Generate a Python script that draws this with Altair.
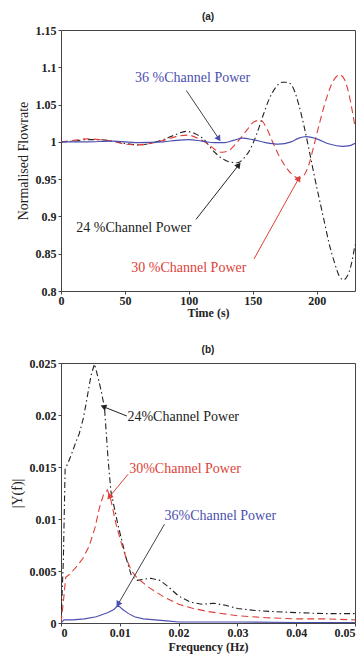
import math
import altair as alt
import pandas as pd

SERIF = "Liberation Serif"
SANS = "Liberation Sans"
BLACK = "#222222"
RED = "#dd3f3a"
BLUE = "#4b4fb0"
ARROW_GRAY = "#444444"

# ---------------- Panel (a): normalised flowrate vs time ----------------
a_t24 = [0, 10, 20, 30, 40, 50, 60, 70, 80, 90, 98, 105, 112, 118, 125, 132, 138, 143, 148, 153,
         158, 163, 168, 173, 177, 182, 186, 190, 194, 198, 202, 206, 210, 214, 218, 221, 224, 227, 230]
a_v24 = [1.0, 1.001, 1.003, 1.003, 1.001, 0.998, 0.996, 0.998, 1.003, 1.010, 1.014, 1.011, 1.003, 0.990,
         0.979, 0.973, 0.972, 0.978, 0.990, 1.010, 1.035, 1.058, 1.073, 1.080, 1.080, 1.071, 1.050, 1.022,
         0.990, 0.956, 0.924, 0.893, 0.862, 0.838, 0.819, 0.815, 0.820, 0.835, 0.862]

a_t30 = [0, 10, 20, 30, 40, 50, 60, 70, 80, 90, 99, 107, 115, 121, 126, 131, 136, 141, 146, 151,
         156, 161, 166, 171, 176, 181, 186, 190, 194, 198, 203, 208, 213, 218, 222, 226, 230]
a_v30 = [1.0, 1.002, 1.004, 1.003, 1.001, 0.997, 0.996, 0.998, 1.002, 1.007, 1.009, 1.005, 0.997, 0.989,
         0.986, 0.988, 0.996, 1.006, 1.017, 1.027, 1.029, 1.018, 0.998, 0.980, 0.966, 0.956, 0.951, 0.955,
         0.970, 0.996, 1.030, 1.060, 1.082, 1.090, 1.083, 1.058, 1.020]

a_t36 = [0, 20, 40, 60, 80, 90, 100, 110, 120, 128, 135, 142, 150, 160, 170, 180, 186, 192, 200, 210,
         220, 226, 230]
a_v36 = [1.0, 1.0, 1.001, 0.999, 1.0, 1.002, 1.003, 1.001, 0.999, 0.999, 1.002, 1.005, 1.003, 0.999,
         0.997, 1.0, 1.005, 1.007, 1.004, 0.997, 0.994, 0.995, 0.998]

a_x_ticks = [0, 50, 100, 150, 200]
a_y_ticks = [0.8, 0.85, 0.9, 0.95, 1.0, 1.05, 1.1, 1.15]

a_labels = ["36 %Channel Power", "24 %Channel Power", "30 %Channel Power"]
a_label_x = [103, 57, 100]
a_label_y = [1.085, 0.884, 0.831]
a_label_col = [BLUE, BLACK, RED]
a_arrow_x1 = [98, 105.6, 151]
a_arrow_y1 = [1.069, 0.896, 0.843]
a_arrow_x2 = [123.5, 139, 186]
a_arrow_y2 = [1.004, 0.969, 0.951]
a_arrow_line = [ARROW_GRAY, BLACK, RED]
a_arrow_head = [BLUE, BLACK, RED]

# ---------------- Panel (b): spectrum ----------------
b_f24 = [0, 0.0004, 0.0007, 0.0012, 0.0017, 0.0024, 0.0031, 0.0038, 0.0043, 0.0051,
         0.0057, 0.0063, 0.0068, 0.0074, 0.0080, 0.0085, 0.0097, 0.0111, 0.0120, 0.0130,
         0.0140, 0.0153, 0.0168, 0.0180, 0.0200, 0.0220, 0.0240, 0.0260, 0.0280, 0.0300,
         0.0330, 0.0360, 0.0400, 0.0450, 0.0500]
b_v24 = [0, 0.0060, 0.0148, 0.0154, 0.0161, 0.0172, 0.0182, 0.0197, 0.0212, 0.0238,
         0.0249, 0.0236, 0.0224, 0.0207, 0.0158, 0.0126, 0.0094, 0.0062, 0.0045, 0.0041,
         0.0042, 0.0043, 0.0041, 0.0036, 0.0026, 0.0020, 0.0018, 0.0019, 0.0017, 0.0014,
         0.0012, 0.0011, 0.0010, 0.0009, 0.0009]

b_f30 = [0, 0.0004, 0.0008, 0.0015, 0.0026, 0.0037, 0.0048, 0.0058, 0.0065, 0.0072,
         0.0079, 0.0085, 0.0094, 0.0103, 0.0111, 0.0120, 0.0130, 0.0150, 0.0175, 0.0200,
         0.0225, 0.0250, 0.0300, 0.0350, 0.0400, 0.0450, 0.0500]
b_v30 = [0, 0.0020, 0.0044, 0.0047, 0.0054, 0.0062, 0.0074, 0.0092, 0.0110, 0.0123,
         0.0128, 0.0118, 0.0094, 0.0076, 0.0062, 0.0050, 0.0043, 0.0034, 0.0025, 0.0018,
         0.0014, 0.0011, 0.0007, 0.0005, 0.0004, 0.0004, 0.0003]

b_f36 = [0, 0.0005, 0.0020, 0.0040, 0.0060, 0.0080, 0.0090, 0.0097, 0.0105, 0.0115,
         0.0125, 0.0140, 0.0160, 0.0180, 0.0200, 0.0300, 0.0400, 0.0500]
b_v36 = [0, 0.0003, 0.0003, 0.0004, 0.0006, 0.0010, 0.0013, 0.0017, 0.0013, 0.0009,
         0.0006, 0.0004, 0.0003, 0.0002, 0.0001, 0.0001, 0.00005, 0.00005]

b_x_ticks = [0, 0.01, 0.02, 0.03, 0.04, 0.05]
b_y_ticks = [0, 0.005, 0.01, 0.015, 0.02, 0.025]

b_labels = ["24%Channel Power", "30%Channel Power", "36%Channel Power"]
b_label_x = [0.0113, 0.0116, 0.0176]
b_label_y = [0.0198, 0.0148, 0.0103]
b_label_col = [BLACK, RED, BLUE]
b_arrow_x1 = [0.0112, 0.0114, 0.0176]
b_arrow_y1 = [0.0199, 0.0143, 0.0095]
b_arrow_x2 = [0.0072, 0.0082, 0.0097]
b_arrow_y2 = [0.0208, 0.0121, 0.0018]
b_arrow_line = [BLACK, RED, ARROW_GRAY]
b_arrow_head = [BLACK, RED, BLUE]

W = 294
H_A = 261
H_B = 260


def make_panel(title, series, xdom, ydom, xticks, yticks, xfmt, xtitle, ytitle, interp,
               labels, lx, ly, lcol, lalign, ax1, ay1, ax2, ay2, aline, ahead, H, xflush, xtpad):
    xs = alt.Scale(domain=xdom, nice=False, zero=False)
    ys = alt.Scale(domain=ydom, nice=False, zero=False)
    xa = alt.Axis(title=xtitle, values=xticks, format=xfmt, grid=False, domain=False,
                  tickSize=3, tickColor="#444", labelPadding=1, labelFont=SERIF,
                  labelFontWeight="bold", labelFontSize=12, labelColor="#222",
                  titleFont=SERIF, titleFontSize=12, titleFontWeight="bold",
                  titleColor="#222", titlePadding=xtpad, labelFlush=xflush)
    ya = alt.Axis(title=ytitle, values=yticks, format="~g", grid=False, domain=False,
                  tickSize=3, tickColor="#444", labelPadding=2, labelFont=SERIF,
                  labelFontWeight="bold", labelFontSize=12, labelColor="#222",
                  titleFont=SERIF, titleFontSize=14, titleFontWeight="normal",
                  titleColor="#222", titlePadding=5, labelFlush=False)
    layers = []
    for (xv, yv, color, dash) in series:
        df = pd.DataFrame({"x": xv, "y": yv})
        mk = dict(color=color, strokeWidth=1.1, interpolate=interp, clip=True)
        if dash:
            mk["strokeDash"] = dash
        layers.append(alt.Chart(df).mark_line(**mk).encode(
            x=alt.X("x:Q", scale=xs, axis=xa), y=alt.Y("y:Q", scale=ys, axis=ya)))

    # arrows
    xr = xdom[1] - xdom[0]
    yr = ydom[1] - ydom[0]
    angles = []
    for i in range(len(ax1)):
        dx = (ax2[i] - ax1[i]) / xr * W
        dy = -(ay2[i] - ay1[i]) / yr * H
        angles.append(math.degrees(math.atan2(dx, -dy)) % 360)
    adf = pd.DataFrame({"x": ax1, "y": ay1, "x2": ax2, "y2": ay2, "line": aline,
                        "head": ahead, "angle": angles})
    layers.append(alt.Chart(adf).mark_rule(strokeWidth=1).encode(
        x=alt.X("x:Q", scale=xs, axis=xa), y=alt.Y("y:Q", scale=ys, axis=ya),
        x2="x2:Q", y2="y2:Q", color=alt.Color("line:N", scale=None)))
    layers.append(alt.Chart(adf).mark_point(shape="triangle-up", filled=True, size=45, opacity=1).encode(
        x=alt.X("x2:Q", scale=xs, axis=xa), y=alt.Y("y2:Q", scale=ys, axis=ya),
        angle=alt.Angle("angle:Q", scale=None), color=alt.Color("head:N", scale=None)))

    tdf = pd.DataFrame({"x": lx, "y": ly, "text": labels, "col": lcol})
    layers.append(alt.Chart(tdf).mark_text(font=SERIF, fontSize=14, align=lalign,
                                           baseline="middle").encode(
        x=alt.X("x:Q", scale=xs, axis=xa), y=alt.Y("y:Q", scale=ys, axis=ya),
        text="text:N", color=alt.Color("col:N", scale=None)))

    return alt.layer(*layers).properties(
        width=W, height=H,
        title=alt.TitleParams(title, font=SANS, fontSize=10, fontWeight="bold",
                              color="#222", offset=2))


panel_a = make_panel(
    "(a)",
    [(a_t24, a_v24, BLACK, [6, 3, 1.5, 3]), (a_t30, a_v30, RED, [7, 4]), (a_t36, a_v36, BLUE, None)],
    [0, 230], [0.8, 1.15], a_x_ticks, a_y_ticks, "d", "Time (s)", "Normalised Flowrate", "monotone",
    a_labels, a_label_x, a_label_y, a_label_col, "center",
    a_arrow_x1, a_arrow_y1, a_arrow_x2, a_arrow_y2, a_arrow_line, a_arrow_head, H_A, False, 1)

panel_b = make_panel(
    "(b)",
    [(b_f24, b_v24, BLACK, [6, 3, 1.5, 3]), (b_f30, b_v30, RED, [7, 4]), (b_f36, b_v36, BLUE, None)],
    [0, 0.05], [0, 0.025], b_x_ticks, b_y_ticks, "~g", "Frequency (Hz)", "|Y(f)|", "linear",
    b_labels, b_label_x, b_label_y, b_label_col, "left",
    b_arrow_x1, b_arrow_y1, b_arrow_x2, b_arrow_y2, b_arrow_line, b_arrow_head, H_B, True, 3)

chart = alt.vconcat(panel_a, panel_b, spacing=25).properties(
    padding={"left": 9, "top": 11, "right": 3, "bottom": 2},
    background="white",
).configure_view(stroke="#444", strokeWidth=1)

chart.save("out.html", embed_options={"renderer": "svg", "actions": False})
